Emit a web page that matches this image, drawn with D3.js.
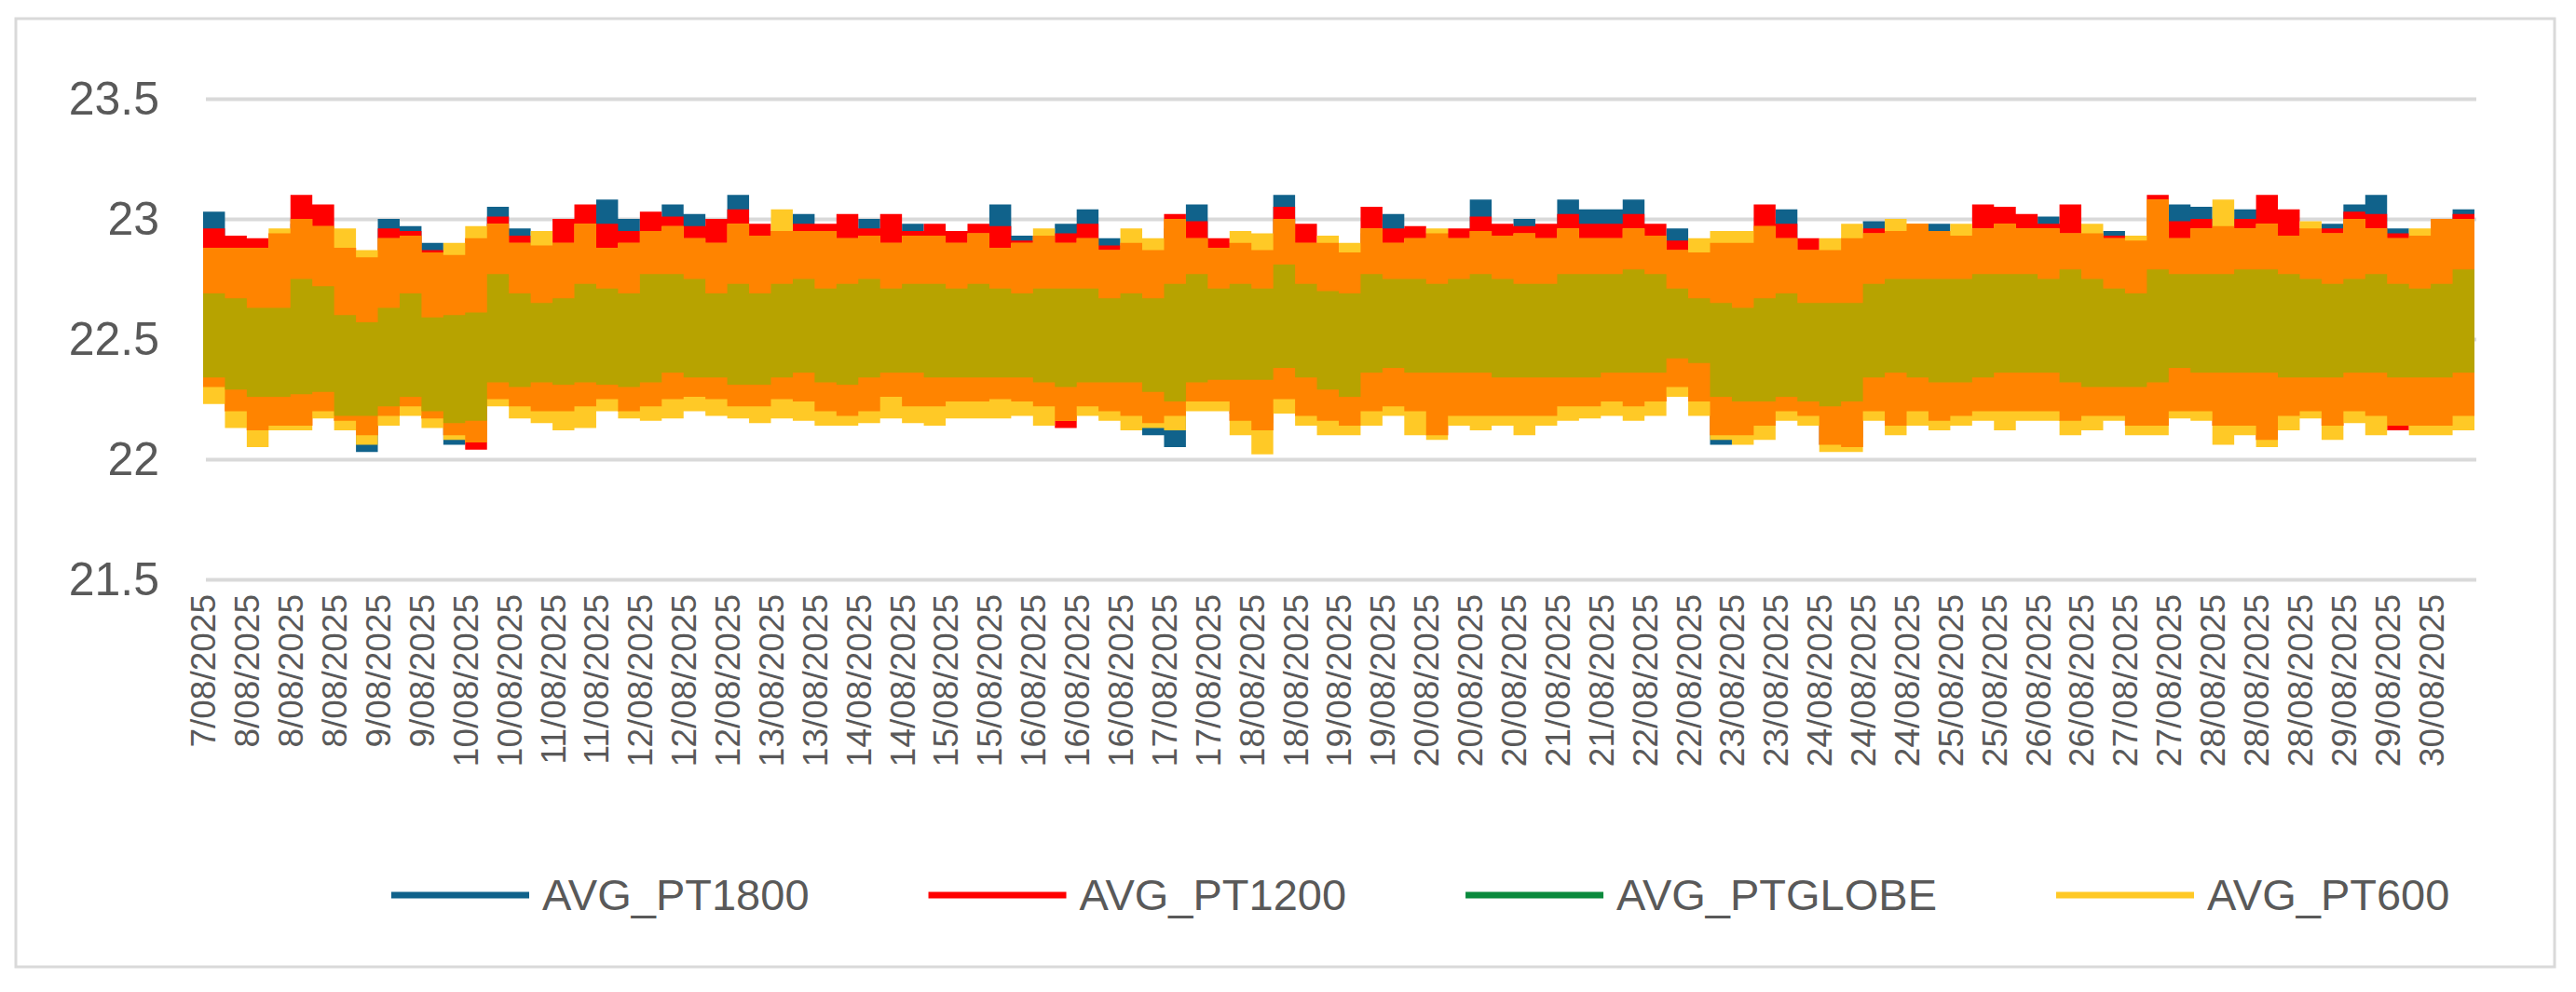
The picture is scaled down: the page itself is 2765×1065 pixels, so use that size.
<!DOCTYPE html>
<html><head><meta charset="utf-8">
<script src="https://cdn.jsdelivr.net/npm/d3@7"></script>
<style>body{margin:0;background:#fff;} svg{display:block;}</style>
</head><body>
<svg id="chart" width="2765" height="1065"></svg>
<script>
// ---------------- data ----------------
const seriesNames = ["AVG_PT1800", "AVG_PT1200", "AVG_PTGLOBE", "AVG_PT600"];
const yTicks = [21.5, 22, 22.5, 23, 23.5];
const xLabels = ["7/08/2025","8/08/2025","8/08/2025","8/08/2025","9/08/2025","9/08/2025","10/08/2025","10/08/2025",
 "11/08/2025","11/08/2025","12/08/2025","12/08/2025","12/08/2025","13/08/2025","13/08/2025","14/08/2025","14/08/2025",
 "15/08/2025","15/08/2025","16/08/2025","16/08/2025","16/08/2025","17/08/2025","17/08/2025","18/08/2025","18/08/2025",
 "19/08/2025","19/08/2025","20/08/2025","20/08/2025","20/08/2025","21/08/2025","21/08/2025","22/08/2025","22/08/2025",
 "23/08/2025","23/08/2025","24/08/2025","24/08/2025","24/08/2025","25/08/2025","25/08/2025","26/08/2025","26/08/2025",
 "27/08/2025","27/08/2025","28/08/2025","28/08/2025","28/08/2025","29/08/2025","29/08/2025","30/08/2025"];

// Each series: high / low reading per time bin (2 bins per labelled category step)
const pt1800Hi = [23.03,22.86,22.86,22.92,22.98,22.95,22.86,22.82,23.00,22.97,
 22.90,22.83,22.90,23.05,22.96,22.87,22.88,22.96,23.08,23.00,
 22.93,23.06,23.02,22.88,23.10,22.91,22.93,23.02,22.93,22.90,
 23.00,22.88,22.98,22.91,22.88,22.92,23.06,22.93,22.91,22.98,
 23.04,22.92,22.88,22.85,22.96,23.06,22.86,22.88,22.85,23.10,
 22.88,22.88,22.84,22.94,23.02,22.90,22.92,22.90,23.08,22.91,
 23.00,22.90,23.08,23.04,23.04,23.08,22.91,22.96,22.84,22.88,
 22.88,22.95,23.04,22.85,22.85,22.90,22.99,22.93,22.95,22.98,
 22.91,22.94,23.00,22.98,23.01,22.96,22.92,22.95,22.89,23.00,
 23.06,23.05,22.95,23.04,23.04,22.91,22.94,22.98,23.06,23.10,
 22.96,22.91,22.96,23.04];
const pt1800Lo = [22.33,22.23,22.18,22.17,22.17,22.23,22.19,22.03,22.21,22.25,
 22.20,22.06,22.10,22.28,22.25,22.23,22.23,22.25,22.28,22.23,
 22.25,22.28,22.29,22.28,22.25,22.25,22.28,22.27,22.23,22.21,
 22.23,22.29,22.25,22.25,22.27,22.27,22.28,22.27,22.25,22.23,
 22.25,22.23,22.21,22.10,22.05,22.27,22.27,22.19,22.15,22.28,
 22.21,22.19,22.17,22.23,22.25,22.23,22.17,22.21,22.21,22.21,
 22.21,22.21,22.25,22.25,22.27,22.25,22.27,22.33,22.27,22.06,
 22.13,22.17,22.23,22.21,22.06,22.09,22.23,22.19,22.23,22.19,
 22.21,22.23,22.23,22.23,22.23,22.19,22.21,22.21,22.17,22.17,
 22.23,22.23,22.17,22.17,22.21,22.21,22.23,22.17,22.23,22.21,
 22.19,22.17,22.17,22.21];
const pt1200Hi = [22.96,22.93,22.92,22.94,23.10,23.06,22.88,22.84,22.96,22.95,
 22.87,22.85,22.92,23.01,22.93,22.89,23.00,23.06,22.98,22.95,
 23.03,23.01,22.97,23.00,23.04,22.98,22.95,22.98,22.98,23.02,
 22.96,23.02,22.95,22.98,22.95,22.98,22.97,22.91,22.93,22.94,
 22.98,22.89,22.90,22.87,23.02,22.99,22.92,22.90,22.87,23.05,
 22.98,22.90,22.86,23.05,22.96,22.97,22.94,22.96,23.01,22.98,
 22.97,22.98,23.02,22.98,22.98,23.02,22.98,22.91,22.86,22.90,
 22.90,23.06,22.98,22.92,22.87,22.92,22.96,22.95,22.98,22.95,
 22.93,23.06,23.05,23.02,22.98,23.06,22.94,22.93,22.91,23.10,
 22.99,23.00,22.97,23.00,23.10,23.04,22.96,22.96,23.03,23.02,
 22.94,22.93,23.00,23.02];
const pt1200Lo = [22.30,22.20,22.12,22.14,22.14,22.20,22.16,22.10,22.18,22.22,
 22.17,22.10,22.04,22.25,22.22,22.20,22.20,22.22,22.25,22.20,
 22.22,22.25,22.26,22.25,22.22,22.22,22.25,22.24,22.20,22.18,
 22.20,22.26,22.22,22.22,22.24,22.24,22.25,22.24,22.22,22.13,
 22.22,22.20,22.18,22.15,22.18,22.24,22.24,22.16,22.12,22.25,
 22.18,22.16,22.14,22.20,22.22,22.20,22.10,22.18,22.18,22.18,
 22.18,22.18,22.22,22.22,22.24,22.22,22.24,22.30,22.24,22.10,
 22.10,22.14,22.20,22.18,22.06,22.05,22.20,22.14,22.20,22.16,
 22.18,22.20,22.20,22.20,22.20,22.16,22.18,22.18,22.14,22.14,
 22.20,22.20,22.14,22.14,22.08,22.18,22.20,22.14,22.20,22.18,
 22.12,22.14,22.14,22.18];
const ptGlobeHi = [22.69,22.67,22.63,22.63,22.75,22.72,22.60,22.57,22.63,22.69,
 22.59,22.60,22.61,22.77,22.69,22.65,22.67,22.73,22.71,22.69,
 22.77,22.77,22.75,22.69,22.73,22.69,22.73,22.75,22.71,22.73,
 22.75,22.71,22.73,22.73,22.71,22.73,22.71,22.69,22.71,22.71,
 22.71,22.67,22.69,22.67,22.73,22.77,22.71,22.73,22.71,22.81,
 22.73,22.70,22.69,22.77,22.75,22.75,22.73,22.75,22.77,22.75,
 22.73,22.73,22.77,22.77,22.77,22.79,22.77,22.71,22.67,22.65,
 22.63,22.67,22.69,22.65,22.65,22.65,22.73,22.75,22.75,22.75,
 22.75,22.77,22.77,22.77,22.75,22.79,22.75,22.71,22.69,22.79,
 22.77,22.77,22.77,22.79,22.79,22.77,22.75,22.73,22.75,22.77,
 22.73,22.71,22.73,22.79];
const ptGlobeLo = [22.34,22.29,22.26,22.26,22.27,22.28,22.18,22.18,22.22,22.26,
 22.20,22.15,22.16,22.32,22.30,22.32,22.31,22.32,22.31,22.30,
 22.32,22.36,22.34,22.34,22.31,22.31,22.34,22.36,22.32,22.31,
 22.34,22.36,22.36,22.34,22.34,22.34,22.34,22.34,22.32,22.30,
 22.32,22.32,22.32,22.28,22.24,22.32,22.33,22.33,22.33,22.38,
 22.34,22.29,22.26,22.36,22.38,22.36,22.36,22.36,22.36,22.34,
 22.34,22.34,22.34,22.34,22.36,22.36,22.36,22.42,22.40,22.26,
 22.24,22.24,22.26,22.24,22.22,22.24,22.34,22.36,22.34,22.32,
 22.32,22.34,22.36,22.36,22.36,22.32,22.30,22.30,22.30,22.32,
 22.38,22.36,22.36,22.36,22.36,22.34,22.34,22.34,22.36,22.36,
 22.34,22.34,22.34,22.36];
const pt600Hi = [22.88,22.88,22.88,22.96,23.00,22.97,22.96,22.87,22.92,22.93,
 22.86,22.90,22.97,22.98,22.90,22.95,22.90,22.98,22.88,22.90,
 22.95,22.97,22.92,22.90,22.98,22.93,23.04,22.95,22.95,22.92,
 22.93,22.90,22.93,22.93,22.90,22.94,22.88,22.90,22.96,22.90,
 22.92,22.87,22.96,22.92,23.00,22.92,22.88,22.95,22.94,23.00,
 22.90,22.93,22.90,22.96,22.90,22.92,22.96,22.92,22.95,22.93,
 22.94,22.92,22.96,22.92,22.92,22.96,22.93,22.87,22.92,22.95,
 22.95,22.97,22.92,22.87,22.92,22.98,22.94,23.00,22.98,22.95,
 22.98,22.96,22.98,22.96,22.96,22.94,22.98,22.92,22.93,23.08,
 22.92,22.96,23.08,22.96,22.98,22.93,22.99,22.94,23.00,22.96,
 22.92,22.96,23.00,23.00];
const pt600Lo = [22.23,22.13,22.05,22.12,22.12,22.17,22.12,22.06,22.14,22.18,
 22.13,22.08,22.07,22.22,22.17,22.15,22.12,22.13,22.20,22.17,
 22.16,22.17,22.20,22.18,22.17,22.15,22.17,22.16,22.14,22.14,
 22.15,22.17,22.15,22.14,22.17,22.17,22.17,22.18,22.14,22.16,
 22.18,22.16,22.12,22.13,22.12,22.20,22.20,22.10,22.02,22.19,
 22.14,22.10,22.10,22.14,22.18,22.10,22.08,22.14,22.12,22.14,
 22.10,22.14,22.16,22.17,22.18,22.16,22.18,22.26,22.18,22.08,
 22.06,22.08,22.16,22.14,22.03,22.03,22.16,22.10,22.14,22.12,
 22.14,22.16,22.12,22.16,22.16,22.10,22.12,22.16,22.10,22.10,
 22.17,22.16,22.06,22.10,22.05,22.12,22.17,22.08,22.15,22.10,
 22.14,22.10,22.10,22.12];

// ---------------- drawing ----------------
const colors = {"AVG_PT1800":"#10628B","AVG_PT1200":"#FF0000","AVG_PTGLOBE":"#0A8A3C","AVG_PT600":"#FFC926"};
const blendRY = "#FF8400";   // where PT1200 and PT600 overlap
const blendG  = "#B7A300";   // where PTGLOBE overlaps the others
const textCol = "#595959";
const gridCol = "#D9D9D9";

const svg = d3.select("#chart");
svg.append("rect").attr("x",0).attr("y",0).attr("width",2765).attr("height",1065).attr("fill","#fff");
svg.append("rect").attr("x",17).attr("y",20).attr("width",2725).attr("height",1018)
  .attr("fill","none").attr("stroke",gridCol).attr("stroke-width",3);

const plotL = 221, plotR = 2658;
const n = pt1800Hi.length;
const nCats = xLabels.length;
const x = d3.scaleLinear().domain([0, n]).range([218, 2656]);
const y = d3.scaleLinear().domain([21.5, 23.5]).range([622, 106]);

// y axis + gridlines
const yAxis = d3.axisLeft(y).tickValues(yTicks).tickFormat(d => String(d))
  .tickSize(-(plotR - plotL)).tickPadding(50);
const gy = svg.append("g").attr("transform", `translate(${plotL},0)`).call(yAxis);
gy.select(".domain").remove();
gy.selectAll(".tick line").attr("stroke", gridCol).attr("stroke-width", 4);
gy.selectAll(".tick text").attr("fill", textCol).attr("font-family","'Liberation Sans', Arial, sans-serif")
  .attr("font-size", 50);

// series data records
const series = {
  "AVG_PT1800": {hi: pt1800Hi, lo: pt1800Lo},
  "AVG_PT1200": {hi: pt1200Hi, lo: pt1200Lo},
  "AVG_PTGLOBE": {hi: ptGlobeHi, lo: ptGlobeLo},
  "AVG_PT600": {hi: pt600Hi, lo: pt600Lo}
};
function pts(hi, lo) {
  const a = hi.map((h, i) => ({i, hi: h, lo: lo[i]}));
  a.push({i: n, hi: hi[n-1], lo: lo[n-1]});
  return a;
}
const area = d3.area().x(d => x(d.i)).y0(d => y(d.lo)).y1(d => y(d.hi)).curve(d3.curveStepAfter);
const gS = svg.append("g");
["AVG_PT1800", "AVG_PT1200", "AVG_PT600"].forEach(name => {
  gS.append("path").datum(pts(series[name].hi, series[name].lo))
    .attr("d", area).attr("fill", colors[name]);
});
// overlap of PT1200 and PT600 (dense interleaved lines read as orange)
const ovHi = pt1200Hi.map((v, i) => Math.min(v, pt600Hi[i]));
const ovLo = pt1200Lo.map((v, i) => Math.max(v, pt600Lo[i]));
gS.append("path").datum(pts(ovHi, ovLo)).attr("d", area).attr("fill", blendRY);
// PTGLOBE band mixed with the others
gS.append("path").datum(pts(ptGlobeHi, ptGlobeLo)).attr("d", area).attr("fill", blendG);

// x axis labels
const xAxis = d3.axisBottom(x).tickValues(d3.range(nCats).map(k => k * n / nCats))
  .tickFormat((d, i) => xLabels[i]).tickSize(0).tickPadding(0);
const gx = svg.append("g").attr("transform", `translate(0,638)`).call(xAxis);
gx.select(".domain").remove();
gx.selectAll(".tick text")
  .attr("fill", textCol).attr("font-family","'Liberation Sans', Arial, sans-serif").attr("font-size", 37)
  .attr("text-anchor","end").attr("transform","rotate(-90)")
  .attr("x", 0).attr("y", 0).attr("dy","0.35em");

// legend
const lg = svg.append("g").attr("transform","translate(420,961)");
let cx = 0;
seriesNames.forEach(name => {
  const g = lg.append("g").attr("transform", `translate(${cx},0)`);
  g.append("line").attr("x1",0).attr("x2",148).attr("y1",0).attr("y2",0)
    .attr("stroke", colors[name]).attr("stroke-width", 7);
  const t = g.append("text").attr("x", 162).attr("y", 0).attr("dy","0.35em").text(name)
    .attr("fill", textCol).attr("font-family","'Liberation Sans', Arial, sans-serif").attr("font-size", 47);
  cx += 162 + t.node().getComputedTextLength() + 128;
});
</script>
</body></html>
